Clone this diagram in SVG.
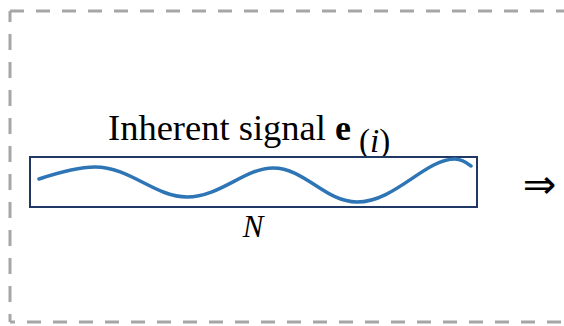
<svg xmlns="http://www.w3.org/2000/svg" width="564" height="326" viewBox="0 0 564 326">
  <style>
    .frame { fill: none; stroke: #A6A6A6; stroke-width: 3; }
    .serif { font-family: "Liberation Serif", "Times New Roman", serif; fill: #000; }
    .box { fill: #fff; stroke: #203864; stroke-width: 2; }
    .wave { fill: none; stroke: #2E75B6; stroke-width: 3.5; stroke-linecap: round; }
  </style>
  <rect width="564" height="326" fill="#fff"/>
  <g id="frame">
    <line class="frame" x1="10" y1="11" x2="570" y2="11" stroke-dasharray="14 12"/>
    <line class="frame" x1="10" y1="11" x2="10" y2="322" stroke-dasharray="16 12" stroke-dashoffset="5"/>
    <line class="frame" x1="10" y1="322" x2="570" y2="322" stroke-dasharray="14 12" stroke-dashoffset="9"/>
  </g>
  <g id="signal">
    <text class="serif" x="108" y="140" font-size="36.5">Inherent signal</text>
    <text class="serif" x="335" y="140" font-size="36" font-weight="bold">e</text>
    <text class="serif" x="359" y="152" font-size="33">(<tspan font-style="italic">i</tspan>)</text>
    <rect class="box" x="30" y="157" width="447" height="50"/>
    <path class="wave" d="M39,179 C60,172 78,167 95,167 C130,167 155,197 187,197 C220,197 245,168 273,168 C305,168 325,202 357,202 C395,202 425,159 455,159 C462,159 467,163 471,166"/>
    <text class="serif" x="253" y="237" font-size="31" font-style="italic" text-anchor="middle">N</text>
  </g>
  <g id="implies">
    <text x="539.5" y="198" font-family="DejaVu Sans, sans-serif" font-size="40" text-anchor="middle" fill="#000">⇒</text>
  </g>
</svg>
